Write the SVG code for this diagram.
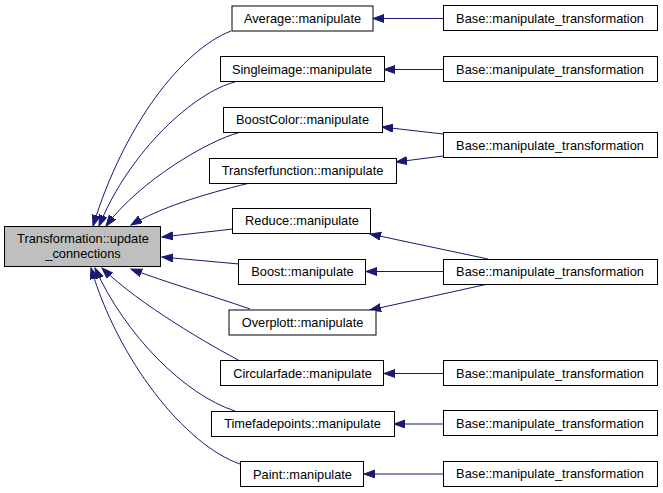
<svg xmlns="http://www.w3.org/2000/svg" width="663" height="493" viewBox="0 0 663 493">
<style>
.n rect{fill:#ffffff;stroke:#000000;stroke-width:1}
.n rect.main{fill:#bfbfbf}
.n text{font-family:"Liberation Sans",Arial,sans-serif;font-size:12.8px;fill:#000000;text-anchor:middle}
.e path{fill:none;stroke:#191970;stroke-width:1;marker-end:url(#ah)}
</style>
<defs>
<marker id="ah" markerUnits="userSpaceOnUse" markerWidth="12" markerHeight="9" refX="11" refY="4" orient="auto">
<path d="M0,0 L11,4 L0,8 z" fill="#191970" stroke="#191970" stroke-width="1"/>
</marker>
</defs>
<rect width="663" height="493" fill="#ffffff"/>
<g id="connectors" class="e">
<path d="M443,18.5 L373,18.5"/>
<path d="M443,69.5 L384,69.5"/>
<path d="M443,134 L382,127"/>
<path d="M443,156 L396,162"/>
<path d="M488,259 L370,234"/>
<path d="M443,271.5 L366,271.5"/>
<path d="M488,284 L370,310"/>
<path d="M443,373.5 L384,373.5"/>
<path d="M443,424 L394,424"/>
<path d="M443,474 L364,474"/>
<path d="M231,31 C182,50 124,125 93,226"/>
<path d="M235,82 C195,92 130,150 99,226"/>
<path d="M238,133 C210,140 140,180 106,226"/>
<path d="M250,183 C200,195 160,208 131,225"/>
<path d="M233,229 L162,237"/>
<path d="M239,264 L162,257"/>
<path d="M250,309 C210,295 165,282 131,269"/>
<path d="M240,361 C210,345 140,305 102,268"/>
<path d="M235,411 C185,395 125,335 95,268"/>
<path d="M240,464 C185,445 118,360 91,268"/>
</g>
<g id="transformation" class="n"><rect class="main" x="4.5" y="226.5" width="156" height="40"/><text x="83" y="242.5">Transformation::update</text><text x="83" y="257.5">_connections</text></g>
<g id="average" class="n"><rect x="232" y="6" width="141" height="25"/><text x="302.5" y="22.5">Average::manipulate</text></g>
<g id="singleimage" class="n"><rect x="220.5" y="56.5" width="164" height="25"/><text x="302" y="73.5">Singleimage::manipulate</text></g>
<g id="boostcolor" class="n"><rect x="223.5" y="107.5" width="159" height="25"/><text x="302.5" y="123.5">BoostColor::manipulate</text></g>
<g id="transferfunction" class="n"><rect x="209.5" y="158.5" width="187" height="25"/><text x="302.5" y="174.5">Transferfunction::manipulate</text></g>
<g id="reduce" class="n"><rect x="232.5" y="208.5" width="138" height="25"/><text x="302" y="225">Reduce::manipulate</text></g>
<g id="boost" class="n"><rect x="238.5" y="259.5" width="127" height="25"/><text x="302.5" y="275.5">Boost::manipulate</text></g>
<g id="overplott" class="n"><rect x="229" y="310" width="147" height="25"/><text x="302.5" y="326.5">Overplott::manipulate</text></g>
<g id="circularfade" class="n"><rect x="220.5" y="360.5" width="163" height="25"/><text x="302.5" y="377.5">Circularfade::manipulate</text></g>
<g id="timefadepoints" class="n"><rect x="211.5" y="411.5" width="183" height="25"/><text x="302.5" y="428">Timefadepoints::manipulate</text></g>
<g id="paint" class="n"><rect x="240.5" y="461.5" width="123" height="25"/><text x="302.5" y="478.5">Paint::manipulate</text></g>
<g id="base1" class="n"><rect x="443.5" y="5.5" width="214" height="25"/><text x="550" y="22.5">Base::manipulate_transformation</text></g>
<g id="base2" class="n"><rect x="443.5" y="56.5" width="214" height="25"/><text x="550" y="73.5">Base::manipulate_transformation</text></g>
<g id="base3" class="n"><rect x="443.5" y="132.5" width="214" height="25"/><text x="550" y="149.5">Base::manipulate_transformation</text></g>
<g id="base4" class="n"><rect x="443.5" y="259.5" width="214" height="25"/><text x="550" y="275.5">Base::manipulate_transformation</text></g>
<g id="base5" class="n"><rect x="443.5" y="360.5" width="214" height="25"/><text x="550" y="377.5">Base::manipulate_transformation</text></g>
<g id="base6" class="n"><rect x="443.5" y="410.5" width="214" height="25"/><text x="550" y="427.5">Base::manipulate_transformation</text></g>
<g id="base7" class="n"><rect x="443.5" y="461.5" width="214" height="25"/><text x="550" y="478">Base::manipulate_transformation</text></g>
</svg>
